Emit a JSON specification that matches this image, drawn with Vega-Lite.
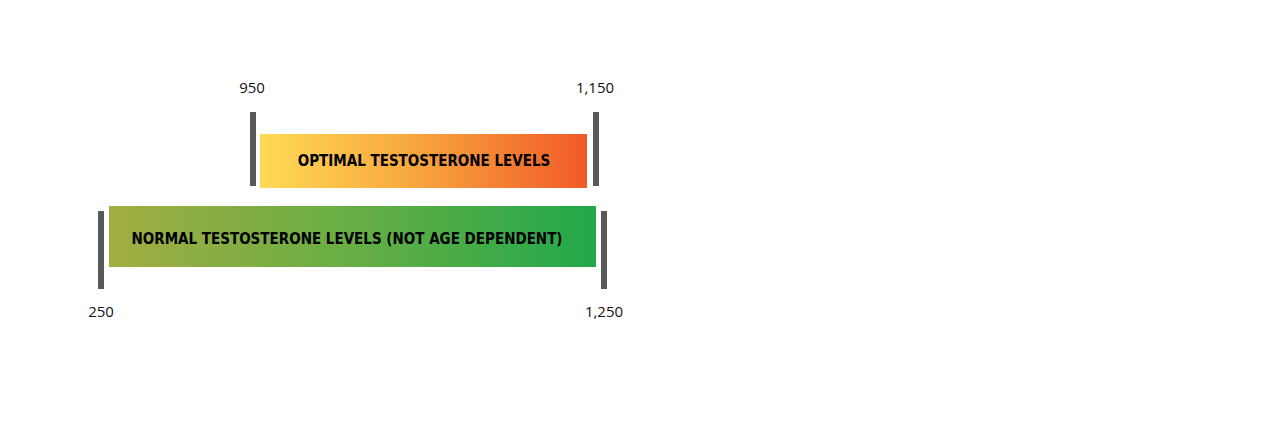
{
  "$schema": "https://vega.github.io/schema/vega-lite/v6.json",
  "width": 1264,
  "height": 442,
  "autosize": {"type": "fit", "contains": "padding"},
  "padding": 0,
  "background": "#FFFFFF",
  "config": {"view": {"stroke": null}},
  "datasets": {
    "ranges": [
      {"level": "optimal", "start": 950, "end": 1150, "label": "OPTIMAL TESTOSTERONE LEVELS"},
      {"level": "normal", "start": 250, "end": 1250, "label": "NORMAL TESTOSTERONE LEVELS  (NOT AGE DEPENDENT)"}
    ],
    "ticks": [
      {"level": "optimal", "value": 950},
      {"level": "optimal", "value": 1150},
      {"level": "normal", "value": 250},
      {"level": "normal", "value": 1250}
    ]
  },
  "encoding": {
    "y": {
      "field": "level", "type": "nominal", "axis": null,
      "scale": {"domain": ["optimal", "normal"], "range": [112, 289], "paddingInner": 0, "paddingOuter": 0}
    }
  },
  "layer": [
    {
      "data": {"name": "ranges"},
      "transform": [{"filter": "datum.level == 'optimal'"}],
      "mark": {
        "type": "rect", "xOffset": 7, "x2Offset": -9, "yOffset": 4.75, "height": 54,
        "color": {"gradient": "linear", "x1": 0, "x2": 1, "y1": 0, "y2": 0,
          "stops": [{"offset": 0, "color": "#FFDA55"}, {"offset": 0.45, "color": "#F8A93F"}, {"offset": 1, "color": "#F15A28"}]}
      },
      "encoding": {
        "x": {"field": "start", "type": "quantitative", "axis": null,
          "scale": {"domain": [250, 950, 1150, 1250], "range": [101, 253, 596, 604], "nice": false, "zero": false}},
        "x2": {"field": "end"}
      }
    },
    {
      "data": {"name": "ranges"},
      "transform": [{"filter": "datum.level == 'normal'"}],
      "mark": {
        "type": "rect", "xOffset": 8, "x2Offset": -8, "yOffset": -8.25, "height": 61,
        "color": {"gradient": "linear", "x1": 0, "x2": 1, "y1": 0, "y2": 0,
          "stops": [{"offset": 0, "color": "#A3AD42"}, {"offset": 0.5, "color": "#67AE45"}, {"offset": 1, "color": "#22A84A"}]}
      },
      "encoding": {
        "x": {"field": "start", "type": "quantitative"},
        "x2": {"field": "end"}
      }
    },
    {
      "data": {"name": "ticks"},
      "transform": [{"filter": "datum.level == 'optimal'"}],
      "mark": {"type": "rect", "color": "#58585A", "xOffset": -3, "x2Offset": 3, "yOffset": -7.25, "height": 74},
      "encoding": {
        "x": {"field": "value", "type": "quantitative"},
        "x2": {"field": "value"}
      }
    },
    {
      "data": {"name": "ticks"},
      "transform": [{"filter": "datum.level == 'normal'"}],
      "mark": {"type": "rect", "color": "#58585A", "xOffset": -3, "x2Offset": 3, "yOffset": 5.25, "height": 78},
      "encoding": {
        "x": {"field": "value", "type": "quantitative"},
        "x2": {"field": "value"}
      }
    },
    {
      "data": {"name": "ticks"},
      "transform": [{"filter": "datum.level == 'optimal'"}],
      "mark": {"type": "text", "font": "Open Sans", "fontSize": 15, "color": "#111111", "dy": -68, "dx": -1, "baseline": "middle"},
      "encoding": {
        "x": {"field": "value", "type": "quantitative"},
        "text": {"field": "value", "type": "quantitative", "format": ","}
      }
    },
    {
      "data": {"name": "ticks"},
      "transform": [{"filter": "datum.level == 'normal'"}],
      "mark": {"type": "text", "font": "Open Sans", "fontSize": 15, "color": "#111111", "dy": 67, "baseline": "middle"},
      "encoding": {
        "x": {"field": "value", "type": "quantitative"},
        "text": {"field": "value", "type": "quantitative", "format": ","}
      }
    },
    {
      "data": {"name": "ranges"},
      "transform": [{"filter": "datum.level == 'optimal'"}],
      "mark": {"type": "text", "font": "'Liberation Sans Narrow', 'DejaVu Sans Condensed', 'Roboto', sans-serif", "fontWeight": "bold", "fontSize": 15, "color": "#000000", "align": "center", "dx": 171, "dy": 5, "baseline": "middle"},
      "encoding": {
        "x": {"field": "start", "type": "quantitative"},
        "text": {"field": "label"}
      }
    },
    {
      "data": {"name": "ranges"},
      "transform": [{"filter": "datum.level == 'normal'"}],
      "mark": {"type": "text", "font": "'Liberation Sans Narrow', 'DejaVu Sans Condensed', 'Roboto', sans-serif", "fontWeight": "bold", "fontSize": 15, "color": "#000000", "align": "center", "dx": 246, "dy": -6, "baseline": "middle"},
      "encoding": {
        "x": {"field": "start", "type": "quantitative"},
        "text": {"field": "label"}
      }
    }
  ]
}
